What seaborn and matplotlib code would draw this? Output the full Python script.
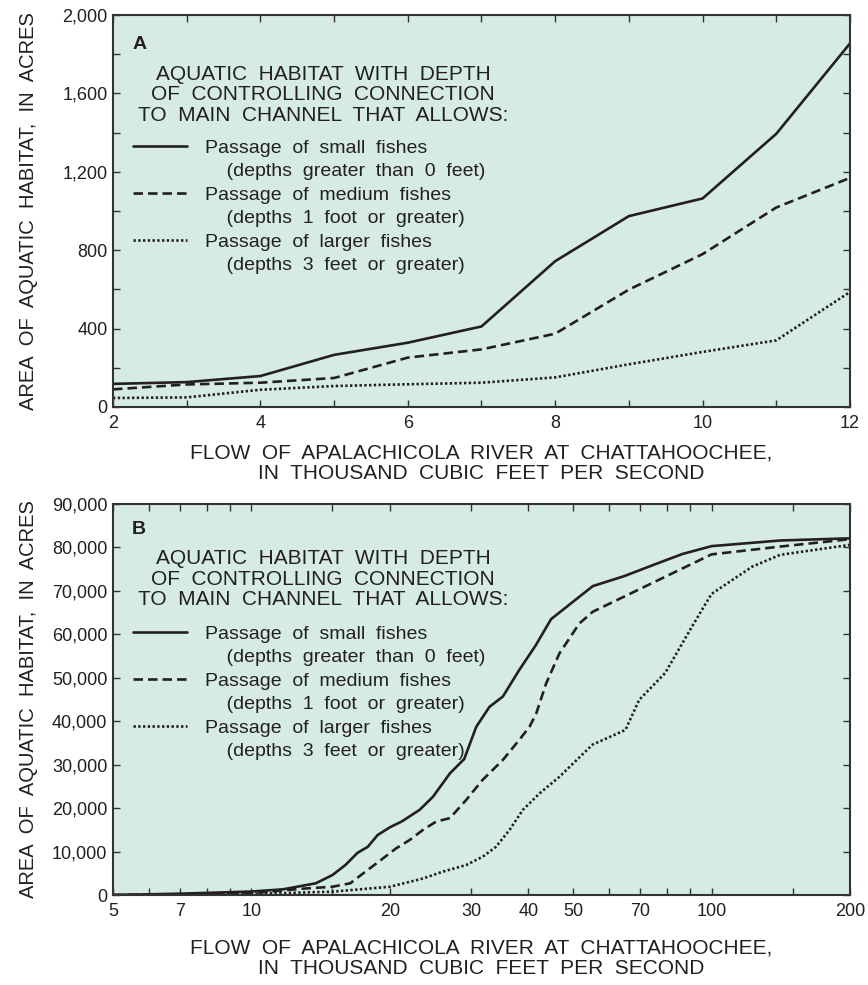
import pandas as pd
import matplotlib.pyplot as plt
import seaborn as sns
from matplotlib.lines import Line2D
from matplotlib.ticker import NullFormatter

# Panel A - linear flow axis, 2 to 12 thousand cfs
flow_a = [2, 3, 4, 5, 6, 7, 8, 9, 10, 11, 12]
small_a = [118, 127, 158, 266, 328, 411, 744, 974, 1064, 1394, 1855]
medium_a = [90, 115, 124, 148, 252, 294, 374, 599, 780, 1018, 1169]
large_a = [46, 49, 88, 107, 116, 124, 151, 218, 281, 340, 587]

# Panel B - log flow axis, 5 to 200 thousand cfs
flow_b_small = [5, 7, 10, 11.7, 13.8, 15, 16, 17, 17.9, 18.8, 20, 21.2, 23.2, 24.8, 27,
                29, 30.8, 32.9, 35.2, 38.2, 41.5, 44.8, 55.2, 64.6, 75.7, 86.5, 100, 141, 200]
area_b_small = [0, 300, 800, 1300, 2700, 4600, 6900, 9700, 11100, 13800, 15600, 16900, 19600, 22600, 28000,
                31300, 38700, 43300, 45700, 51800, 57500, 63500, 71100, 73400, 76200, 78500, 80300, 81600, 82100]
flow_b_medium = [5, 7, 10, 12.7, 15, 16.4, 17.5, 19.3, 20.6, 22.1, 23.6, 25.2, 27, 29.3, 31.8,
                 35.2, 38.2, 40.2, 41.6, 43.7, 46.7, 51.6, 55.2, 100, 141, 200]
area_b_medium = [0, 150, 400, 1400, 1900, 2700, 5000, 8400, 10700, 12700, 15000, 16900, 17700, 21900, 26500,
                 31100, 35700, 38700, 41800, 48700, 55600, 62500, 65200, 78400, 80200, 81900]
flow_b_large = [5, 7, 10, 15, 20, 23.6, 26.1, 29.3, 31.8, 34, 36.4, 38.9, 42.3, 46.7, 55.1,
                65, 69.6, 79.3, 90.7, 100, 122.7, 141, 200]
area_b_large = [0, 100, 250, 760, 1900, 3800, 5400, 6900, 8800, 11100, 15000, 19600, 23400, 27200, 34600,
                38000, 44900, 51100, 61800, 69300, 75600, 78300, 80600]

passages = ['small', 'medium', 'large']
legend_labels = ['Passage  of  small  fishes', '    (depths  greater  than  0  feet)',
                 'Passage  of  medium  fishes', '    (depths  1  foot  or  greater)',
                 'Passage  of  larger  fishes', '    (depths  3  feet  or  greater)']
heading = 'AQUATIC  HABITAT  WITH  DEPTH\nOF  CONTROLLING  CONNECTION\nTO  MAIN  CHANNEL  THAT  ALLOWS:'
xlabel = 'FLOW  OF  APALACHICOLA  RIVER  AT  CHATTAHOOCHEE,\nIN  THOUSAND  CUBIC  FEET  PER  SECOND'
ylabel = 'AREA  OF  AQUATIC  HABITAT,  IN  ACRES'

xticks_a = [2, 4, 6, 8, 10, 12]
xminor_a = [3, 5, 7, 9, 11]
yticks_a = [0, 400, 800, 1200, 1600, 2000]
yticklabels_a = ['0', '400', '800', '1,200', '1,600', '2,000']
yminor_a = [200, 600, 1000, 1400, 1800]

xticks_b = [5, 7, 10, 20, 30, 40, 50, 70, 100, 200]
xminor_b = [6, 8, 9, 15, 60, 80, 90, 150]
yticks_b = [0, 10000, 20000, 30000, 40000, 50000, 60000, 70000, 80000, 90000]
yticklabels_b = ['0', '10,000', '20,000', '30,000', '40,000', '50,000', '60,000', '70,000', '80,000', '90,000']

ink = '#231f20'
panel_bg = '#d6ece3'
dash_map = {'small': '', 'medium': (3.6, 1.9), 'large': (0.9, 0.9)}


def long_form(parts):
    frames = [pd.DataFrame({'flow': x, 'area': y, 'passage': name}) for name, x, y in parts]
    return pd.concat(frames, ignore_index=True)


df_a = long_form([('small', flow_a, small_a), ('medium', flow_a, medium_a), ('large', flow_a, large_a)])
df_b = long_form([('small', flow_b_small, area_b_small),
                  ('medium', flow_b_medium, area_b_medium),
                  ('large', flow_b_large, area_b_large)])

sns.set_style('ticks')
plt.rcParams['font.family'] = ['Liberation Sans', 'DejaVu Sans']
plt.rcParams['text.color'] = ink
plt.rcParams['axes.labelcolor'] = ink
plt.rcParams['xtick.color'] = '#333333'
plt.rcParams['ytick.color'] = '#333333'
plt.rcParams['xtick.labelcolor'] = ink
plt.rcParams['ytick.labelcolor'] = ink

fig = plt.figure(figsize=(8.68, 9.85), dpi=100)
ax_a = fig.add_axes([113 / 868, 1 - 407 / 985, 737 / 868, 392 / 985])
ax_b = fig.add_axes([113 / 868, 1 - 895 / 985, 737 / 868, 391 / 985])
ax_b.set_xscale('log')


def draw_panel(ax, df, letter, head_y, leg_y, labelpad):
    ax.set_facecolor(panel_bg)
    sns.lineplot(data=df, x='flow', y='area', style='passage', style_order=passages,
                 dashes=dash_map, color=ink, linewidth=1.9, errorbar=None,
                 legend=False, ax=ax)
    for sp in ax.spines.values():
        sp.set_visible(True)
        sp.set_color('#333333')
        sp.set_linewidth(1.5)
    ax.tick_params(which='both', direction='in', length=5, width=1,
                   top=True, right=True, labelsize=13)
    ax.tick_params(axis='x', which='both', pad=6)
    ax.tick_params(axis='y', which='both', pad=4)

    ax.text(0.026, letter[1], letter[0], transform=ax.transAxes, fontsize=14,
            fontweight='bold', ha='left', va='center')
    ax.text(0.285, head_y, heading, transform=ax.transAxes, fontsize=15,
            ha='center', va='center', multialignment='center', linespacing=1.1)

    lines = ax.get_lines()[:3]
    blank = Line2D([], [], linestyle='none')
    handles = [lines[0], blank, lines[1], blank, lines[2], blank]
    ax.legend(handles, legend_labels, loc='upper left', bbox_to_anchor=(0.027, leg_y),
              frameon=False, borderpad=0, borderaxespad=0, handlelength=2.78,
              handletextpad=0.95, labelspacing=0.3, prop={'size': 14})

    ax.set_xlabel(xlabel, fontsize=15, linespacing=1.1, labelpad=labelpad)
    ax.set_ylabel(ylabel, fontsize=14.5)
    ax.yaxis.set_label_coords(-0.102, 0.5)


# Panel A
ax_a.set_xlim(2, 12)
ax_a.set_ylim(0, 2000)
ax_a.set_xticks(xticks_a, labels=[str(t) for t in xticks_a])
ax_a.set_xticks(xminor_a, minor=True)
ax_a.set_yticks(yticks_a, labels=yticklabels_a)
ax_a.set_yticks(yminor_a, minor=True)
draw_panel(ax_a, df_a, ('A', 0.926), 0.796, 0.683, 8)

# Panel B
ax_b.set_xlim(5, 200)
ax_b.set_ylim(0, 90000)
ax_b.set_xticks(xticks_b, labels=[str(t) for t in xticks_b])
ax_b.set_xticks(xminor_b, minor=True)
ax_b.xaxis.set_minor_formatter(NullFormatter())
ax_b.set_yticks(yticks_b, labels=yticklabels_b)
draw_panel(ax_b, df_b, ('B', 0.935), 0.808, 0.690, 13)

fig.savefig('out.png', dpi=100)
plt.close(fig)
